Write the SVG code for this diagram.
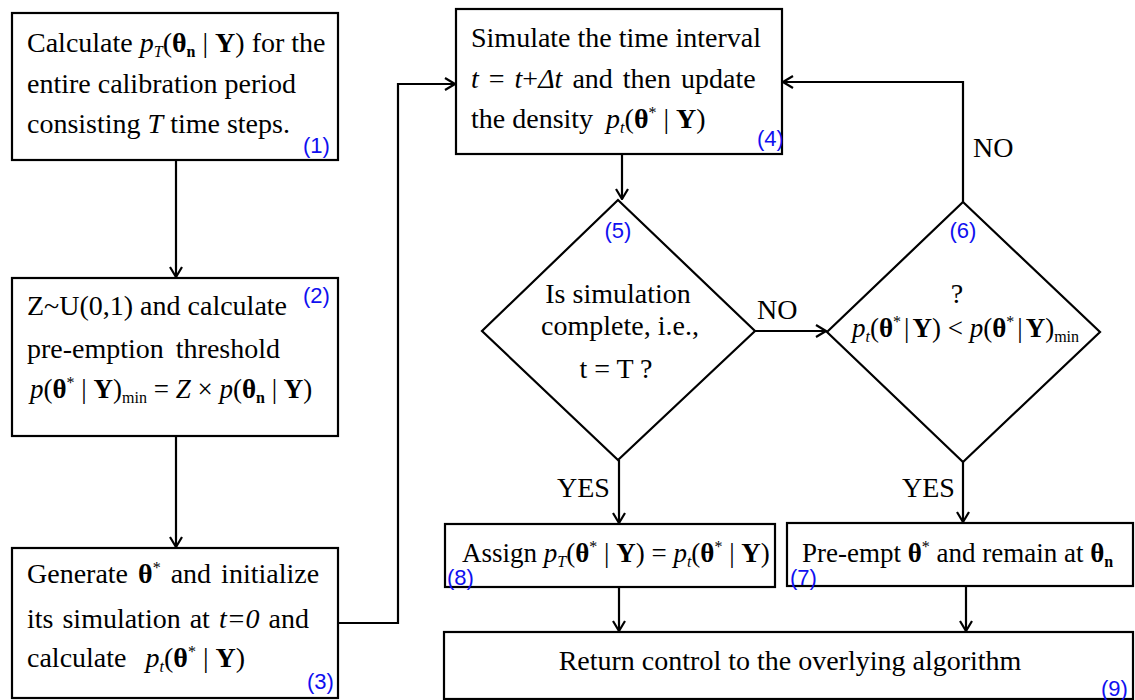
<svg xmlns="http://www.w3.org/2000/svg" width="1135" height="700" viewBox="0 0 1135 700">
<style>
.box{fill:#fff;stroke:#000;stroke-width:2.2}
.t{font-family:"Liberation Serif","Times New Roman",serif;font-size:28px;fill:#000}
.f{font-size:27px}
.i{font-style:italic}
.b{font-weight:bold}
.s{font-size:16px}
.lab{font-family:"Liberation Sans",Arial,sans-serif;font-size:22px;fill:#1010f0}
.ln{fill:none;stroke:#000;stroke-width:2.2}
</style>
<defs>
<marker id="ah" viewBox="0 0 12 14" refX="11" refY="7" markerWidth="12" markerHeight="14" markerUnits="userSpaceOnUse" orient="auto">
<path d="M1,1 L11,7 L1,13" fill="none" stroke="#000" stroke-width="2.2"/>
</marker>
</defs>
<rect width="1135" height="700" fill="#fff"/>

<g id="connectors">
<path class="ln" d="M176,160 V277" marker-end="url(#ah)"/>
<path class="ln" d="M176,436 V547" marker-end="url(#ah)"/>
<path class="ln" d="M338,623 H398 V84 H455" marker-end="url(#ah)"/>
<path class="ln" d="M622,154 V199" marker-end="url(#ah)"/>
<path class="ln" d="M755,331 H826" marker-end="url(#ah)"/>
<path class="ln" d="M963,202 V82 H783" marker-end="url(#ah)"/>
<path class="ln" d="M619,460 V523" marker-end="url(#ah)"/>
<path class="ln" d="M963,462 V522" marker-end="url(#ah)"/>
<path class="ln" d="M619,587 V631" marker-end="url(#ah)"/>
<path class="ln" d="M966,586 V631" marker-end="url(#ah)"/>
<text class="t" x="757" y="319">NO</text>
<text class="t" x="973" y="157">NO</text>
<text class="t" x="557" y="497">YES</text>
<text class="t" x="902" y="497">YES</text>
</g>

<g id="node1">
<rect class="box" x="12" y="13" width="326" height="147"/>
<text class="t" x="27" y="52">Calculate <tspan class="i">p</tspan><tspan class="i s" dy="5">T</tspan><tspan dy="-5">(</tspan><tspan class="b">θ</tspan><tspan class="b s" dy="5">n</tspan><tspan dy="-5"> | </tspan><tspan class="b">Y</tspan>) for the</text>
<text class="t" x="27" y="93">entire calibration period</text>
<text class="t" x="27" y="133">consisting <tspan class="i">T</tspan> time steps.</text>
<text class="lab" x="303" y="153">(1)</text>
</g>

<g id="node2">
<rect class="box" x="12" y="278" width="326" height="158"/>
<text class="t" x="27" y="315">Z~U(0,1) and calculate</text>
<text class="t" x="27" y="358" word-spacing="5">pre-emption threshold</text>
<text class="t f" x="30" y="398"><tspan class="i">p</tspan>(<tspan class="b">θ</tspan><tspan class="s" dy="-10">*</tspan><tspan dy="10"> | </tspan><tspan class="b">Y</tspan>)<tspan class="s" dy="5">min</tspan><tspan dy="-5"> = </tspan><tspan class="i">Z</tspan> × <tspan class="i">p</tspan>(<tspan class="b">θ</tspan><tspan class="b s" dy="5">n</tspan><tspan dy="-5"> | </tspan><tspan class="b">Y</tspan>)</text>
<text class="lab" x="303" y="303">(2)</text>
</g>

<g id="node3">
<rect class="box" x="12" y="548" width="326" height="150"/>
<text class="t" x="27" y="583" word-spacing="3">Generate <tspan class="b">θ</tspan><tspan class="s" dy="-10">*</tspan><tspan dy="10"> and initialize</tspan></text>
<text class="t" x="27" y="628" word-spacing="2">its simulation at <tspan class="i">t=0</tspan> and</text>
<text class="t" x="27" y="667">calculate <tspan class="i" dx="12">p</tspan><tspan class="i s" dy="5">t</tspan><tspan dy="-5">(</tspan><tspan class="b">θ</tspan><tspan class="s" dy="-10">*</tspan><tspan dy="10"> | </tspan><tspan class="b">Y</tspan>)</text>
<text class="lab" x="307" y="689">(3)</text>
</g>

<g id="node4">
<rect class="box" x="456" y="9" width="326" height="145"/>
<text class="t" x="471" y="47">Simulate the time interval</text>
<text class="t" x="471" y="88" word-spacing="3"><tspan class="i">t</tspan> = <tspan class="i">t</tspan>+<tspan class="i">Δt</tspan><tspan dx="10">and then update</tspan></text>
<text class="t" x="471" y="128">the density <tspan class="i" dx="6">p</tspan><tspan class="i s" dy="5">t</tspan><tspan dy="-5">(</tspan><tspan class="b">θ</tspan><tspan class="s" dy="-10">*</tspan><tspan dy="10"> | </tspan><tspan class="b">Y</tspan>)</text>
<text class="lab" x="757" y="146">(4)</text>
</g>

<g id="node5">
<polygon class="box" points="618,200 755,331 618,460 482,331"/>
<text class="lab" x="618" y="238" text-anchor="middle">(5)</text>
<text class="t" x="618" y="303" text-anchor="middle">Is simulation</text>
<text class="t" x="620" y="335" text-anchor="middle">complete, i.e.,</text>
<text class="t" x="616" y="378" text-anchor="middle">t = T ?</text>
</g>

<g id="node6">
<polygon class="box" points="963,202 1100,332 963,462 827,332"/>
<text class="lab" x="963" y="238" text-anchor="middle">(6)</text>
<text class="t" x="957" y="303" text-anchor="middle">?</text>
<text class="t f" x="852" y="337"><tspan class="i">p</tspan><tspan class="i s" dy="5">t</tspan><tspan dy="-5">(</tspan><tspan class="b">θ</tspan><tspan class="s" dy="-10">*</tspan><tspan dy="10" dx="3">|</tspan><tspan class="b" dx="3">Y</tspan>) &lt; <tspan class="i">p</tspan>(<tspan class="b">θ</tspan><tspan class="s" dy="-10">*</tspan><tspan dy="10" dx="3">|</tspan><tspan class="b" dx="3">Y</tspan>)<tspan class="s" dy="5">min</tspan></text>
</g>

<g id="node8">
<rect class="box" x="445" y="524" width="330" height="63"/>
<text class="t f" x="462" y="562">Assign <tspan class="i">p</tspan><tspan class="i s" dy="5">T</tspan><tspan dy="-5">(</tspan><tspan class="b">θ</tspan><tspan class="s" dy="-10">*</tspan><tspan dy="10"> | </tspan><tspan class="b">Y</tspan>) = <tspan class="i">p</tspan><tspan class="i s" dy="5">t</tspan><tspan dy="-5">(</tspan><tspan class="b">θ</tspan><tspan class="s" dy="-10">*</tspan><tspan dy="10"> | </tspan><tspan class="b">Y</tspan>)</text>
<text class="lab" x="447" y="585">(8)</text>
</g>

<g id="node7">
<rect class="box" x="787" y="523" width="346" height="63"/>
<text class="t f" x="802" y="562">Pre-empt <tspan class="b">θ</tspan><tspan class="s" dy="-10">*</tspan><tspan dy="10"> and remain at </tspan><tspan class="b">θ</tspan><tspan class="b s" dy="5">n</tspan></text>
<text class="lab" x="790" y="585">(7)</text>
</g>

<g id="node9">
<rect class="box" x="444" y="632" width="689" height="67"/>
<text class="t" x="790" y="670" text-anchor="middle">Return control to the overlying  algorithm</text>
<text class="lab" x="1101" y="696">(9)</text>
</g>
</svg>
